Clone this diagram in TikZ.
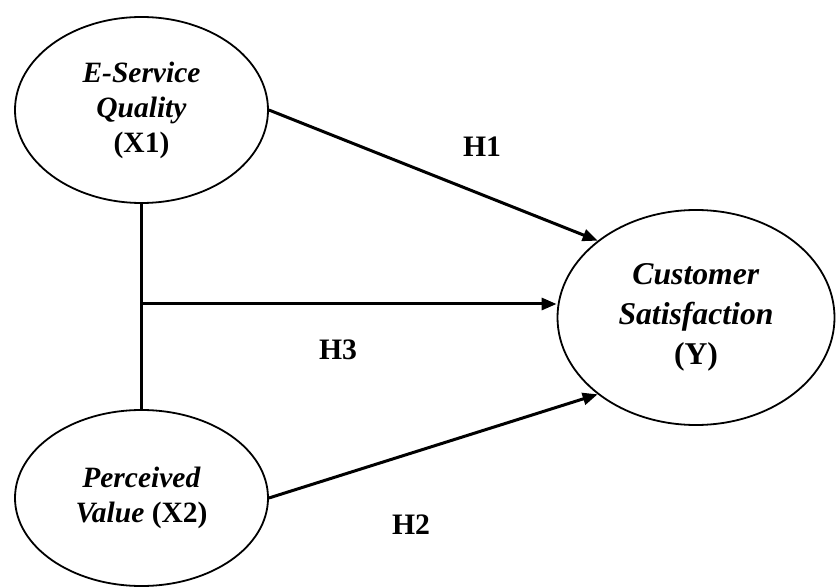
\documentclass[tikz,border=0pt]{standalone}
\usepackage{fontspec}
\setmainfont{Liberation Serif}
\usetikzlibrary{shapes.geometric,arrows.meta}

\begin{document}
\begin{tikzpicture}[x=1pt,y=-1pt,
  construct/.style={draw, ellipse, line width=1.8pt, inner sep=0pt, align=center,
    font=\fontsize{29.5}{35}\selectfont\bfseries},
  outcome/.style={construct, font=\fontsize{31.7}{40}\selectfont\bfseries},
  path/.style={line width=3pt, -{Triangle[length=15pt,width=12pt]}},
  link/.style={line width=3pt},
  hyp/.style={font=\fontsize{29.7}{34}\selectfont\bfseries}]
  \useasboundingbox (0,0) rectangle (836,588);

  % latent constructs
  \node[construct, minimum width=253pt, minimum height=186pt] (x1) at (141.5,110)
    {\textit{E-Service}\\\textit{Quality}\\(X1)};
  \node[construct, minimum width=253pt, minimum height=176pt] (x2) at (141.5,498)
    {\textit{Perceived}\\\textit{Value} (X2)};
  \node[outcome, minimum width=277pt, minimum height=215pt] (y) at (696,317.5)
    {\textit{Customer}\\\textit{Satisfaction}\\(Y)};

  % joint effect line between the two predictors
  \draw[link] (x1.south) -- (x2.north);
  \coordinate (joint) at (141.5,304);

  % hypothesised paths
  \draw[path] (x1.east) -- (y.142);
  \draw[path] (x2.east) -- (y.218);
  \draw[path] (joint) -- (joint -| y.west);

  % hypothesis labels
  \node[hyp] (h1) at (482,147) {H1};
  \node[hyp] (h3) at (338,350) {H3};
  \node[hyp] (h2) at (411,525) {H2};
\end{tikzpicture}
\end{document}
